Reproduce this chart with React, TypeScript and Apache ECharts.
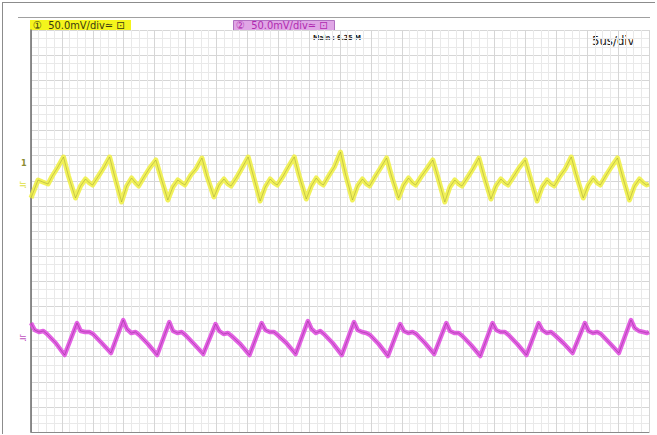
import React, { useEffect, useRef } from "react";
import * as echarts from "echarts";

// time in µs (5 µs/div, 10 div), amplitude in mV screen units (50 mV/div)
const ch1Trace: [number, number][] = [
  [0, 33], [0.57, 51], [0.95, 49], [1.38, 47], [1.72, 55], [2.13, 63],
  [2.63, 74], [3.03, 55], [3.6, 33], [4.01, 45], [4.41, 52], [4.73, 48], [4.98, 46], [5.46, 55], [5.87, 63],
  [6.36, 74], [6.76, 55], [7.33, 29], [7.74, 45], [8.14, 53], [8.46, 48], [8.71, 45], [9.19, 55], [9.6, 63],
  [10.1, 71], [10.5, 54], [11.07, 31], [11.48, 44], [11.88, 51], [12.2, 48], [12.45, 46], [12.93, 56], [13.34, 62],
  [13.83, 73], [14.23, 55], [14.8, 34], [15.21, 46], [15.61, 52], [15.93, 47], [16.18, 45], [16.66, 54], [17.07, 63],
  [17.57, 74], [17.97, 56], [18.54, 30], [18.95, 44], [19.35, 52], [19.67, 48], [19.92, 46], [20.4, 55], [20.81, 64],
  [21.3, 74], [21.7, 55], [22.27, 32], [22.68, 45], [23.08, 53], [23.4, 48], [23.65, 46], [24.13, 56], [24.54, 64],
  [25.04, 79], [25.44, 57], [26.01, 31], [26.42, 45], [26.82, 52], [27.14, 47], [27.39, 45], [27.87, 55], [28.28, 63],
  [28.77, 73], [29.17, 55], [29.74, 33], [30.15, 46], [30.55, 53], [30.87, 48], [31.12, 46], [31.6, 55], [32.01, 62],
  [32.51, 71], [32.91, 54], [33.48, 29], [33.89, 44], [34.29, 51], [34.61, 47], [34.86, 45], [35.34, 54], [35.75, 62],
  [36.24, 73], [36.64, 55], [37.21, 32], [37.62, 45], [38.02, 52], [38.34, 48], [38.59, 46], [39.07, 55], [39.48, 63],
  [39.98, 71], [40.38, 54], [40.95, 30], [41.36, 44], [41.76, 51], [42.08, 47], [42.33, 45], [42.81, 55], [43.22, 62],
  [43.71, 74], [44.11, 56], [44.68, 33], [45.09, 46], [45.49, 53], [45.81, 48], [46.06, 46], [46.54, 56], [46.95, 64],
  [47.45, 73], [47.85, 55], [48.42, 31], [48.83, 45], [49.23, 52], [49.55, 48], [49.8, 46], [50, 47],
];

const ch2Trace: [number, number][] = [
  [0, -92], [0.3, -99], [0.65, -101], [1.0, -100], [1.3, -103], [2.0, -112], [2.72, -124],
  [3.72, -92], [4.02, -100], [4.37, -101], [4.72, -101], [5.02, -103], [5.72, -112], [6.47, -122],
  [7.46, -89], [7.76, -98], [8.11, -102], [8.46, -101], [8.76, -104], [9.46, -113], [10.21, -124],
  [11.19, -91], [11.49, -100], [11.84, -102], [12.19, -101], [12.49, -104], [13.19, -113], [13.94, -123],
  [14.93, -93], [15.23, -100], [15.58, -103], [15.93, -102], [16.23, -105], [16.93, -113], [17.68, -124],
  [18.66, -92], [18.96, -99], [19.31, -101], [19.66, -101], [19.96, -104], [20.66, -112], [21.41, -123],
  [22.4, -90], [22.7, -98], [23.05, -102], [23.4, -100], [23.7, -103], [24.4, -112], [25.15, -124],
  [26.13, -91], [26.43, -99], [26.78, -101], [27.13, -102], [27.43, -104], [28.13, -113], [28.88, -125],
  [29.87, -93], [30.17, -100], [30.52, -102], [30.87, -101], [31.17, -103], [31.87, -112], [32.62, -123],
  [33.6, -92], [33.9, -100], [34.25, -102], [34.6, -102], [34.9, -105], [35.6, -114], [36.35, -125],
  [37.34, -92], [37.64, -99], [37.99, -101], [38.34, -101], [38.64, -104], [39.34, -113], [40.09, -124],
  [41.07, -92], [41.37, -99], [41.72, -102], [42.07, -101], [42.37, -104], [43.07, -112], [43.82, -122],
  [44.81, -92], [45.11, -100], [45.46, -102], [45.81, -101], [46.11, -103], [46.81, -112], [47.56, -122],
  [48.54, -89], [48.84, -97], [49.19, -100], [49.54, -101], [49.84, -102], [50, -101],
];

const ch1Label = "①  50.0mV/div≃ ⊡";
const ch2Label = "②  50.0mV/div≃ ⊡";
const timebaseLabel = "5us/div";
const memoryLabel = "Main : 6.25 M";

const narrow = "'DejaVu Sans Condensed', 'Liberation Sans Narrow', 'Noto Sans CJK JP', sans-serif";

export default function App() {
  const ref = useRef<HTMLDivElement>(null);
  useEffect(() => {
    if (!ref.current) return;
    const chart = echarts.init(ref.current, undefined, { renderer: "svg" });
    chart.setOption({
      animation: false,
      backgroundColor: "#ffffff",
      grid: { left: 31, top: 30, right: 8, bottom: 3 },
      xAxis: {
        type: "value",
        min: 0,
        max: 50,
        interval: 2.5,
        axisLabel: { show: false },
        axisTick: { show: false },
        axisLine: { show: true, onZero: false, lineStyle: { color: "#8a8a8a", width: 1 } },
        splitLine: { show: true, lineStyle: { color: "#d6d6d6", width: 1 } },
        minorTick: { show: false, splitNumber: 4 },
        minorSplitLine: { show: true, lineStyle: { color: "#e9e9e9", width: 1 } },
      },
      yAxis: {
        type: "value",
        min: -201,
        max: 201,
        interval: 25.125,
        axisLabel: { show: false },
        axisTick: { show: false },
        axisLine: { show: true, onZero: false, lineStyle: { color: "#6a6a6a", width: 1.5 } },
        splitLine: { show: true, lineStyle: { color: "#d6d6d6", width: 1 } },
        minorTick: { show: false, splitNumber: 3 },
        minorSplitLine: { show: true, lineStyle: { color: "#e9e9e9", width: 1 } },
      },
      series: [
        {
          type: "line", data: ch1Trace, showSymbol: false, silent: true,
          lineStyle: { color: "#f0f048", width: 5, opacity: 0.9, join: "round" },
        },
        {
          type: "line", data: ch1Trace, showSymbol: false, silent: true,
          lineStyle: { color: "#8f8f28", width: 1, opacity: 0.4 },
        },
        {
          type: "line", data: ch2Trace, showSymbol: false, silent: true,
          lineStyle: { color: "#e050e0", width: 4.5, opacity: 0.9, join: "round" },
        },
        {
          type: "line", data: ch2Trace, showSymbol: false, silent: true,
          lineStyle: { color: "#7a207a", width: 1, opacity: 0.4 },
        },
      ],
      graphic: [
        { type: "line", shape: { x1: 2, y1: 2.5, x2: 655, y2: 2.5 }, style: { stroke: "#8c8c8c", lineWidth: 1 } },
        { type: "line", shape: { x1: 2.5, y1: 2, x2: 2.5, y2: 434 }, style: { stroke: "#8c8c8c", lineWidth: 1 } },
        { type: "line", shape: { x1: 18, y1: 17.5, x2: 650, y2: 17.5 }, style: { stroke: "#a0a0a0", lineWidth: 1 } },
        { type: "line", shape: { x1: 649.5, y1: 30, x2: 649.5, y2: 432 }, style: { stroke: "#8a8a8a", lineWidth: 1 } },
        { type: "rect", shape: { x: 30, y: 20, width: 101, height: 10 }, style: { fill: "#f4f41c" } },
        {
          type: "text", x: 33, y: 25,
          style: { text: ch1Label, fill: "#3a3a10", font: `11px ${narrow}`, textVerticalAlign: "middle" },
        },
        { type: "rect", shape: { x: 233.5, y: 20.5, width: 101, height: 10 }, style: { fill: "#e0a6e6", stroke: "#b070c0", lineWidth: 1 } },
        {
          type: "text", x: 236, y: 25.5,
          style: { text: ch2Label, fill: "#b02ab0", font: `11px ${narrow}`, textVerticalAlign: "middle" },
        },
        {
          type: "text", x: 313, y: 38,
          style: { text: memoryLabel, fill: "#222222", font: `bold 7px ${narrow}`, textVerticalAlign: "middle" },
        },
        {
          type: "text", x: 592, y: 40,
          style: { text: timebaseLabel, fill: "#222222", font: `13px ${narrow}`, textVerticalAlign: "middle" },
        },
        {
          type: "text", x: 21, y: 163,
          style: { text: "1", fill: "#8c8c30", font: `bold 9px ${narrow}`, textVerticalAlign: "middle" },
        },
        {
          type: "text", x: 19, y: 184,
          style: { text: "≒", fill: "#e0e040", font: `10px ${narrow}`, textVerticalAlign: "middle" },
        },
        {
          type: "text", x: 19, y: 337,
          style: { text: "≒", fill: "#c050c0", font: `10px ${narrow}`, textVerticalAlign: "middle" },
        },
      ],
    });
    return () => chart.dispose();
  }, []);
  return (
    <div
      ref={ref}
      style={{ position: "fixed", left: 0, top: 0, width: 657, height: 435 }}
    />
  );
}
